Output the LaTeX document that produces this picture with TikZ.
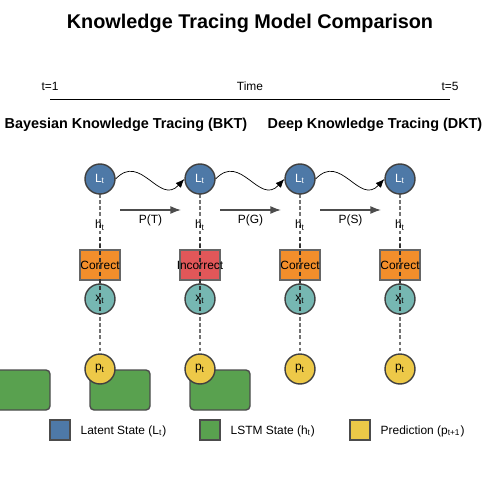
\documentclass[tikz,border=0pt]{standalone}
\usepackage{fontspec}
\setmainfont{Liberation Sans}
\usetikzlibrary{arrows.meta}
\definecolor{latentblue}{HTML}{4E79A7}
\definecolor{lstmgreen}{HTML}{59A14F}
\definecolor{predyellow}{HTML}{EDC948}
\definecolor{inputteal}{HTML}{76B7B2}
\definecolor{corrorange}{HTML}{F28E2B}
\definecolor{wrongred}{HTML}{E15759}
\tikzset{
  state/.style={circle,draw=black!75,fill=#1,minimum size=0.6cm,inner sep=0pt,font=\fontsize{6.8}{8}\selectfont},
  resp/.style={rectangle,draw=black!60,fill=#1,minimum width=0.8cm,minimum height=0.6cm,inner sep=0pt,font=\fontsize{6.8}{8}\selectfont},
  lstm/.style={draw=black!70,fill=lstmgreen,rounded corners=0.8mm},
  legbox/.style={draw=black!70,fill=#1},
  lbl/.style={font=\fontsize{6.8}{8}\selectfont}
}
\begin{document}
\begin{tikzpicture}[x=0.02cm,y=-0.02cm,thick]
  \useasboundingbox (0,0) rectangle (500,500);
  % title and time axis
  \node[font=\bfseries\fontsize{11.3}{14}\selectfont] (title) at (250,23) {Knowledge Tracing Model Comparison};
  \draw[line width=1.1pt] (50,99.5) -- (450,99.5);
  \foreach \x/\xtext in {50/t=1, 250/Time, 450/t=5}
    \node[lbl] at (\x,86) {\xtext};
  \node[font=\bfseries\fontsize{8.2}{10}\selectfont] (bkt) at (126,125) {Bayesian Knowledge Tracing (BKT)};
  \node[font=\bfseries\fontsize{8.2}{10}\selectfont] (dkt) at (375,125) {Deep Knowledge Tracing (DKT)};
  % LSTM states behind
  \foreach \x in {-10,90,190}
    \draw[lstm] (\x,370) rectangle ++(60,40);
  % time steps
  \foreach \i/\res/\col in {1/Correct/corrorange, 2/Incorrect/wrongred, 3/Correct/corrorange, 4/Correct/corrorange}{
    \draw[black!55,dashed,dash pattern=on 2pt off 1.5pt] (\i*100,194) -- (\i*100,354);
    \node[state=latentblue,text=white] (L\i) at (\i*100,179) {L\textsubscript{t}};
    \node[lbl] (h\i) at (\i*100,225) {h\textsubscript{t}};
    \node[resp=\col] (r\i) at (\i*100,265) {\makebox[0pt]{\res}};
    \node[state=inputteal] (x\i) at (\i*100,299) {x\textsubscript{t}};
    \node[state=predyellow] (p\i) at (\i*100,369) {p\textsubscript{t}};
    \draw[black!80,dashed,dash pattern=on 2.5pt off 1.5pt] (h\i.south) -- (x\i.south);
  }
  % transitions
  \foreach \i/\j in {1/2, 2/3, 3/4}
    \draw[thin,-{Latex[length=5pt,width=4pt]}] (L\i.east) .. controls +(25,-27) and +(-25,27) .. (L\j.west);
  \foreach \x/\xtext in {120/P(T), 220/P(G), 320/P(S)}
    \draw[black!70,-{Latex[length=6pt,width=4.5pt]},color=black!70] (\x,210) -- ++(61,0) node[midway,below=-1pt,lbl,black] {\xtext};
  % legend
  \foreach \x/\col/\ltext in {50/latentblue/Latent State (L\textsubscript{t}), 200/lstmgreen/LSTM State (h\textsubscript{t}), 350/predyellow/Prediction (p\textsubscript{t+1})}{
    \draw[legbox=\col] (\x,420) rectangle ++(20,20);
    \node[lbl,anchor=west,inner sep=0pt] at (\x+30,431) {\ltext};
  }
\end{tikzpicture}
\end{document}
